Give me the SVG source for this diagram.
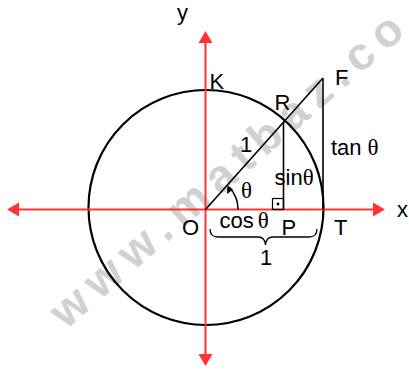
<svg xmlns="http://www.w3.org/2000/svg" width="409" height="370" viewBox="0 0 409 370">
<style>
.lbl{font-family:"Liberation Sans",Arial,sans-serif;font-size:22px;fill:#000}
.th{font-family:"Liberation Serif","Times New Roman",serif;font-size:23px}
.ax{stroke:#ff3333;stroke-width:2;fill:none}
.ah{fill:#ff3333}
.blk{stroke:#000;fill:none}
</style>
<rect width="409" height="370" fill="#fff"/>
<g id="watermark">
<text x="66" y="330" transform="rotate(-41 66 330)" font-family="Liberation Sans,Arial,sans-serif" font-weight="bold" font-size="46" letter-spacing="9" fill="#cdcdcd" opacity="0.9">www.matbaz.co</text>
</g>
<g id="circle"><circle cx="206" cy="207.5" r="117.5" class="blk" stroke-width="2.2"/></g>
<g id="axes">
<line x1="18" y1="209.5" x2="374" y2="209.5" class="ax"/>
<polygon points="7,209.5 19,202.5 19,216.5" class="ah"/>
<polygon points="385,209.5 373,202.5 373,216.5" class="ah"/>
<line x1="205.5" y1="41" x2="205.5" y2="356" class="ax"/>
<polygon points="205.5,31 198.5,43 212.5,43" class="ah"/>
<polygon points="205.5,366 198.5,354 212.5,354" class="ah"/>
</g>
<g id="connectors">
<line x1="205.5" y1="209.5" x2="323" y2="78" class="blk" stroke-width="1.6"/>
<line x1="283.5" y1="122" x2="283.5" y2="209.5" class="blk" stroke-width="1.6"/>
<line x1="323" y1="78" x2="323" y2="209.5" class="blk" stroke-width="1.6"/>
<rect x="272.5" y="198.5" width="11" height="11" class="blk" stroke-width="1.2"/>
<circle cx="278" cy="204" r="1.4" fill="#000"/>
<path d="M238,209.5 A32.5,32.5 0 0 0 230,188" class="blk" stroke-width="1.5"/>
<polygon points="227.5,185.5 227,194 233,189.5" fill="#000"/>
<path d="M210,229 Q210,237 218,237 L258,237 Q265,237 265.5,245 Q266,237 273,237 L309,237 Q317,237 317,229" class="blk" stroke-width="1.3"/>
</g>
<g id="labels">
<text class="lbl" x="177" y="20">y</text>
<text class="lbl" x="397" y="217">x</text>
<text class="lbl" x="209.5" y="89">K</text>
<text class="lbl" x="335" y="85">F</text>
<text class="lbl" x="274.5" y="110">R</text>
<text class="lbl" x="240" y="152">1</text>
<text class="lbl" x="331" y="155">tan<tspan class="th" dx="6">θ</tspan></text>
<text class="lbl" x="274.5" y="185">sin<tspan class="th">θ</tspan></text>
<text class="th" x="241" y="198">θ</text>
<text class="lbl" x="219.5" y="228">cos<tspan class="th" dx="4">θ</tspan></text>
<text class="lbl" x="182" y="235">O</text>
<text class="lbl" x="281.5" y="235">P</text>
<text class="lbl" x="334" y="235">T</text>
<text class="lbl" x="260" y="265">1</text>
</g>
</svg>
